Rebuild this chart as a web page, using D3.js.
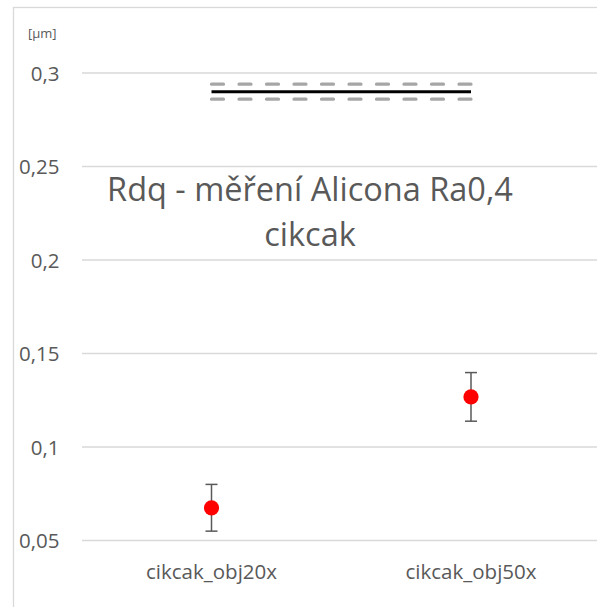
<!DOCTYPE html>
<html>
<head>
<meta charset="utf-8">
<script src="https://cdn.jsdelivr.net/npm/d3@7"></script>
<style>
  html, body { margin: 0; padding: 0; background: #fff; }
  svg { display: block; }
  text { font-family: "Open Sans", "Noto Sans", sans-serif; fill: #595959; }
</style>
</head>
<body>
<svg id="chart" width="597" height="607"></svg>
<script>
// Rdq measurement data
const categories = ["cikcak_obj20x", "cikcak_obj50x"];
const meanValues = [0.0675, 0.1268];
const errValues = [0.0125, 0.013];
// reference level with its tolerance band
const refLevel = [0.290, 0.290];
const refUpper = [0.294, 0.294];
const refLower = [0.286, 0.286];
const yTicks = [0.05, 0.1, 0.15, 0.2, 0.25, 0.3];
const titleLines = ["Rdq - měření Alicona Ra0,4", "cikcak"];
const unitLabel = "[µm]";

const svg = d3.select("#chart");

// outer chart frame
svg.append("rect")
  .attr("x", 13.5).attr("y", 7.5)
  .attr("width", 700).attr("height", 700)
  .attr("fill", "none").attr("stroke", "#d9d9d9").attr("stroke-width", 1.3);

const x = d3.scaleBand().domain(categories).range([81.75, 600.75]);
const y = d3.scaleLinear().domain([0.05, 0.3]).range([540.5, 73]);
const cx = c => x(c) + x.bandwidth() / 2;

// horizontal gridlines
svg.append("g").selectAll("line").data(yTicks).join("line")
  .attr("x1", 82).attr("x2", 620)
  .attr("y1", d => y(d)).attr("y2", d => y(d))
  .attr("stroke", "#d9d9d9").attr("stroke-width", 1.3);

// y axis labels
const fmt = d => d3.format("~g")(d).replace(".", ",");
const yAxis = d3.axisLeft(y).tickValues(yTicks).tickFormat(fmt).tickSize(0).tickPadding(0);
const ga = svg.append("g").attr("transform", "translate(59.5,0)").call(yAxis);
ga.select(".domain").remove();
ga.selectAll("text")
  .attr("font-size", 20.5).attr("font-family", "Open Sans, sans-serif")
  .attr("fill", "#595959").attr("dy", "0.35em");

// unit label
svg.append("text").attr("x", 28).attr("y", 38)
  .attr("font-size", 13).text(unitLabel);

// category labels
const xAxis = d3.axisBottom(x).tickSize(0).tickPadding(0);
const gx = svg.append("g").attr("transform", "translate(0,579)").call(xAxis);
gx.select(".domain").remove();
gx.selectAll("text")
  .attr("font-size", 20.5).attr("font-family", "Open Sans, sans-serif")
  .attr("fill", "#595959").attr("dy", 0);

// title
svg.append("g").selectAll("text").data(titleLines).join("text")
  .attr("x", 310).attr("y", (d, i) => 201 + i * 45)
  .attr("text-anchor", "middle")
  .attr("font-size", 32.5)
  .text(d => d);

// reference lines
const line = d3.line().x((d, i) => cx(categories[i])).y(d => y(d));
[refUpper, refLower].forEach(arr => {
  svg.append("path").datum(arr).attr("d", line)
    .attr("fill", "none").attr("stroke", "#a6a6a6").attr("stroke-width", 3.2)
    .attr("stroke-linecap", "round").attr("stroke-dasharray", "12,15.5");
});
svg.append("path").datum(refLevel).attr("d", line)
  .attr("fill", "none").attr("stroke", "#000").attr("stroke-width", 3);

// error bars
const eb = svg.append("g").selectAll("g").data(categories).join("g");
eb.append("line")
  .attr("x1", d => cx(d)).attr("x2", d => cx(d))
  .attr("y1", (d, i) => y(meanValues[i] + errValues[i]))
  .attr("y2", (d, i) => y(meanValues[i] - errValues[i]))
  .attr("stroke", "#595959").attr("stroke-width", 1.5);
[1, -1].forEach(s => {
  eb.append("line")
    .attr("x1", d => cx(d) - 6).attr("x2", d => cx(d) + 6)
    .attr("y1", (d, i) => y(meanValues[i] + s * errValues[i]))
    .attr("y2", (d, i) => y(meanValues[i] + s * errValues[i]))
    .attr("stroke", "#595959").attr("stroke-width", 1.5);
});

// markers
svg.append("g").selectAll("circle").data(categories).join("circle")
  .attr("cx", d => cx(d)).attr("cy", (d, i) => y(meanValues[i]))
  .attr("r", 7.6).attr("fill", "#ff0000");
</script>
</body>
</html>
